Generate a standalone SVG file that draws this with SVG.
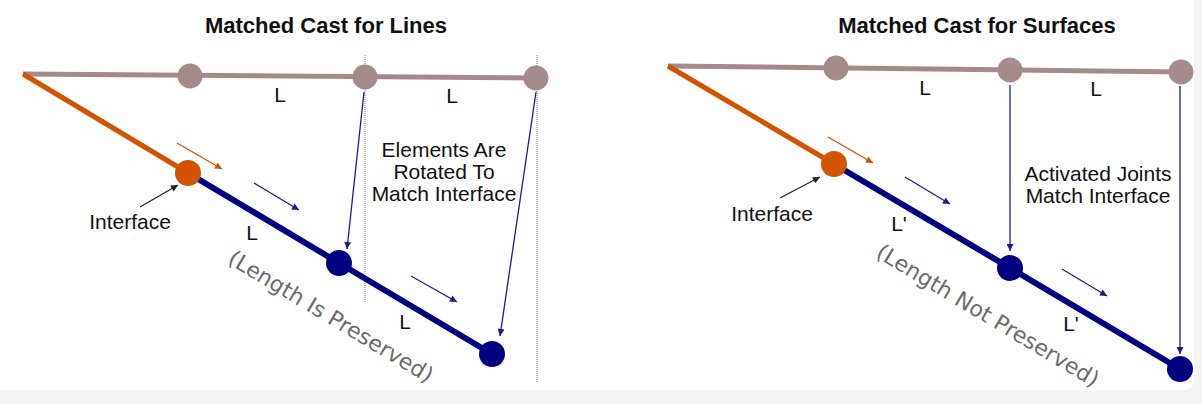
<svg xmlns="http://www.w3.org/2000/svg" width="1202" height="404" viewBox="0 0 1202 404">
<style>
.title{font-family:"Liberation Sans",Arial,sans-serif;font-weight:bold;font-size:22px;fill:#111;text-anchor:middle}
.lbl{font-family:"Liberation Sans",Arial,sans-serif;font-size:21px;fill:#111;text-anchor:middle}
.note{font-family:"DejaVu Sans",sans-serif;font-size:22px;fill:#6b6b6b;text-anchor:middle}
.grey{stroke:#a58c8c;stroke-width:5;fill:none}
.orange{stroke:#d35400;stroke-width:5;fill:none}
.navy{stroke:#000080;stroke-width:6;fill:none}
.gj{fill:#a58c8c}
.oj{fill:#d35400}
.nj{fill:#000080}
.dot{stroke:#7a7a7a;stroke-width:1;stroke-dasharray:1 1;fill:none}
.ba{stroke:#1c1c8c;stroke-width:1.3;fill:none;marker-end:url(#mb)}
.oa{stroke:#d35400;stroke-width:1.3;fill:none;marker-end:url(#mo)}
.ka{stroke:#222;stroke-width:1.3;fill:none;marker-end:url(#mk)}
</style>
<defs>
<marker id="mb" viewBox="0 0 10 10" refX="10" refY="5" markerWidth="9" markerHeight="7" markerUnits="userSpaceOnUse" orient="auto"><path d="M0,0 L10,5 L0,10 z" fill="#1c1c8c"/></marker>
<marker id="mo" viewBox="0 0 10 10" refX="10" refY="5" markerWidth="9" markerHeight="7" markerUnits="userSpaceOnUse" orient="auto"><path d="M0,0 L10,5 L0,10 z" fill="#d35400"/></marker>
<marker id="mk" viewBox="0 0 10 10" refX="10" refY="5" markerWidth="9" markerHeight="7" markerUnits="userSpaceOnUse" orient="auto"><path d="M0,0 L10,5 L0,10 z" fill="#222"/></marker>
</defs>
<rect x="0" y="0" width="1202" height="404" fill="#f4f4f4"/>
<rect x="-12" y="-12" width="1206" height="402" rx="10" fill="#ffffff"/>

<text class="title" x="326" y="33">Matched Cast for Lines</text>
<text class="title" x="977" y="33">Matched Cast for Surfaces</text>

<g id="connectors">
  <line class="dot" x1="365" y1="55" x2="365" y2="303"/>
  <line class="dot" x1="537" y1="55" x2="537" y2="383"/>
  <line class="grey" x1="23" y1="74" x2="536" y2="78"/>
  <line class="orange" x1="23" y1="74" x2="188" y2="173"/>
  <polyline class="navy" points="188,173 339,263 492,354"/>
  <line class="ba" x1="364" y1="92" x2="347" y2="249"/>
  <line class="ba" x1="536" y1="92" x2="500" y2="336"/>
  <line class="oa" x1="177" y1="143" x2="222" y2="169"/>
  <line class="ba" x1="254" y1="183" x2="299" y2="210"/>
  <line class="ba" x1="411" y1="276" x2="457" y2="302"/>
  <line class="ka" x1="140" y1="207" x2="178" y2="185"/>
  <line class="grey" x1="668" y1="66" x2="1181" y2="72"/>
  <line class="orange" x1="668" y1="66" x2="834" y2="164"/>
  <polyline class="navy" points="834,164 1010,268 1180,369"/>
  <line class="ba" x1="1010" y1="85" x2="1010" y2="251"/>
  <line class="ba" x1="1180" y1="86" x2="1180" y2="354"/>
  <line class="oa" x1="828" y1="137" x2="873" y2="163"/>
  <line class="ba" x1="905" y1="177" x2="950" y2="204"/>
  <line class="ba" x1="1062" y1="269" x2="1107" y2="296"/>
  <line class="ka" x1="780" y1="198" x2="820" y2="177"/>
</g>

<g id="lines-g1"><circle class="gj" cx="190" cy="76" r="12.5"/></g>
<g id="lines-g2"><circle class="gj" cx="365" cy="77" r="12.5"/></g>
<g id="lines-g3"><circle class="gj" cx="536" cy="78" r="12.5"/></g>
<g id="lines-interface"><circle class="oj" cx="188" cy="173" r="13"/></g>
<g id="lines-n1"><circle class="nj" cx="339" cy="263" r="13"/></g>
<g id="lines-n2"><circle class="nj" cx="492" cy="354" r="13"/></g>

<g id="lines-labels">
  <text class="lbl" x="280" y="102">L</text>
  <text class="lbl" x="452" y="103">L</text>
  <text class="lbl" x="252" y="240">L</text>
  <text class="lbl" x="405" y="329">L</text>
  <text class="lbl" x="130" y="229">Interface</text>
  <text class="lbl" x="444" y="157">Elements Are</text>
  <text class="lbl" x="444" y="179">Rotated To</text>
  <text class="lbl" x="444" y="201">Match Interface</text>
  <text class="note" transform="translate(327,323) rotate(31)" x="0" y="0">(Length Is Preserved)</text>
</g>

<g id="surf-g1"><circle class="gj" cx="836" cy="68" r="12.5"/></g>
<g id="surf-g2"><circle class="gj" cx="1010" cy="70" r="12.5"/></g>
<g id="surf-g3"><circle class="gj" cx="1181" cy="72" r="12.5"/></g>
<g id="surf-interface"><circle class="oj" cx="834" cy="164" r="13"/></g>
<g id="surf-n1"><circle class="nj" cx="1010" cy="268" r="13"/></g>
<g id="surf-n2"><circle class="nj" cx="1180" cy="369" r="13"/></g>

<g id="surf-labels">
  <text class="lbl" x="925" y="95">L</text>
  <text class="lbl" x="1096" y="96">L</text>
  <text class="lbl" x="899" y="231">L'</text>
  <text class="lbl" x="1071" y="331">L'</text>
  <text class="lbl" x="772" y="221">Interface</text>
  <text class="lbl" x="1098" y="181">Activated Joints</text>
  <text class="lbl" x="1098" y="203">Match Interface</text>
  <text class="note" transform="translate(984,322) rotate(31)" x="0" y="0">(Length Not Preserved)</text>
</g>
</svg>
